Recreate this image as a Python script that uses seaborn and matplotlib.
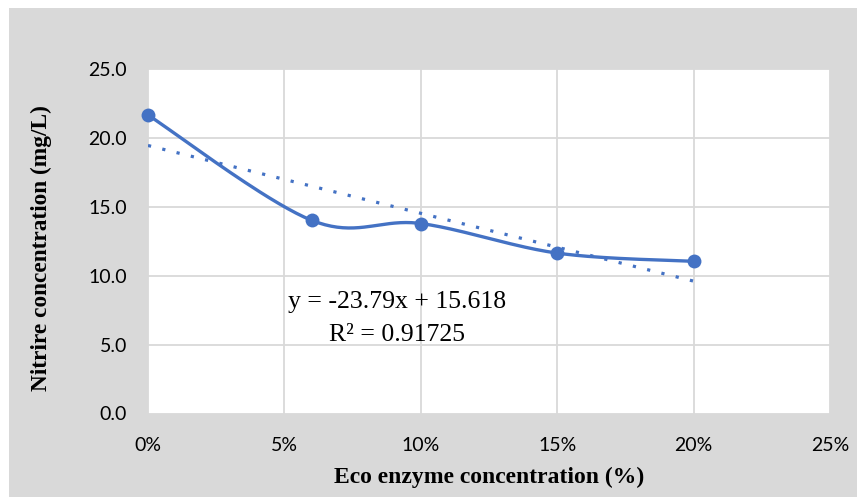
import numpy as np
import pandas as pd
import matplotlib
matplotlib.use("Agg")
import matplotlib.pyplot as plt
from matplotlib.patches import Rectangle
from matplotlib.ticker import FuncFormatter
import seaborn as sns

# ---- data ----
eco_pct = [0, 6, 10, 15, 20]                  # Eco enzyme concentration (%)
nitrite = [21.68, 14.03, 13.8, 11.65, 11.05]  # mg/L
x_ticks = [0, 5, 10, 15, 20, 25]
y_ticks = [0.0, 5.0, 10.0, 15.0, 20.0, 25.0]
eq_text = "y = -23.79x + 15.618"
r2_text = "R\u00b2 = 0.91725"
x_label = "Eco enzyme concentration (%)"
y_label = "Nitrire concentration (mg/L)"

BLUE = "#4472C4"
GRAY = "#D9D9D9"

def smooth(xs, ys, n=40):
    pts = np.column_stack([xs, ys]).astype(float)
    ext = np.vstack([pts[0], pts, pts[-1]])
    out = []
    for i in range(1, len(ext) - 2):
        p0, p1, p2, p3 = ext[i - 1], ext[i], ext[i + 1], ext[i + 2]
        c1 = p1 + (p2 - p0) / 6.0
        c2 = p2 - (p3 - p1) / 6.0
        t = np.linspace(0, 1, n)[:, None]
        seg = ((1 - t) ** 3) * p1 + 3 * ((1 - t) ** 2) * t * c1 + 3 * (1 - t) * t ** 2 * c2 + t ** 3 * p2
        out.append(seg if i == 1 else seg[1:])
    arr = np.vstack(out)
    return arr[:, 0], arr[:, 1]

W, H = 857, 497
fig = plt.figure(figsize=(W / 100, H / 100), dpi=100)
fig.patch.set_facecolor("white")
fig.add_artist(Rectangle((9 / W, 0), 1 - 9 / W, 1 - 8 / H, transform=fig.transFigure,
                         facecolor=GRAY, edgecolor="none", zorder=0))

ax = fig.add_axes([148 / W, 1 - 413.5 / H, (830 - 148) / W, (413.5 - 69.3) / H])
ax.set_facecolor("white")

df = pd.DataFrame({"x": eco_pct, "y": nitrite})
sx, sy = smooth(eco_pct, nitrite)
sm = pd.DataFrame({"x": sx, "y": sy})

sns.regplot(data=df, x="x", y="y", ax=ax, scatter=False, ci=None, truncate=True,
            line_kws=dict(color=BLUE, lw=2.3, linestyle=(0, (1, 3.6)), dash_capstyle="butt", zorder=3))
sns.lineplot(data=sm, x="x", y="y", ax=ax, color=BLUE, lw=2.4, sort=False,
             estimator=None, zorder=4)
sns.scatterplot(data=df, x="x", y="y", ax=ax, color=BLUE, s=100, edgecolor=BLUE,
                linewidth=0, zorder=5, clip_on=False)

ax.set_xlim(0, 25)
ax.set_ylim(0, 25)
ax.set_xticks(x_ticks)
ax.set_yticks(y_ticks)
ax.xaxis.set_major_formatter(FuncFormatter(lambda v, p: f"{v:.0f}%"))
ax.yaxis.set_major_formatter(FuncFormatter(lambda v, p: f"{v:.1f}"))
ax.grid(True, color=GRAY, lw=1.3)
ax.set_axisbelow(True)
for s in ax.spines.values():
    s.set_visible(False)
ax.tick_params(length=0, labelsize=14, colors="#000000")
ax.tick_params(axis="y", pad=15)
ax.tick_params(axis="x", pad=17)
for lab in ax.get_xticklabels() + ax.get_yticklabels():
    lab.set_family(["Lato", "DejaVu Sans"])

ax.set_xlabel(x_label, family="Liberation Serif", fontweight="bold", fontsize=17, labelpad=9)
ax.set_ylabel(y_label, family="Liberation Serif", fontweight="bold", fontsize=16.8)
ax.yaxis.set_label_coords(-0.141, 0.48)

fig.text(397 / W, 1 - 302 / H, eq_text, family="Liberation Serif", fontsize=18.5,
         ha="center", va="center")
fig.text(397 / W, 1 - 335 / H, r2_text, family="Liberation Serif", fontsize=18.5,
         ha="center", va="center")

fig.savefig("out.png", dpi=100, facecolor=fig.get_facecolor())
